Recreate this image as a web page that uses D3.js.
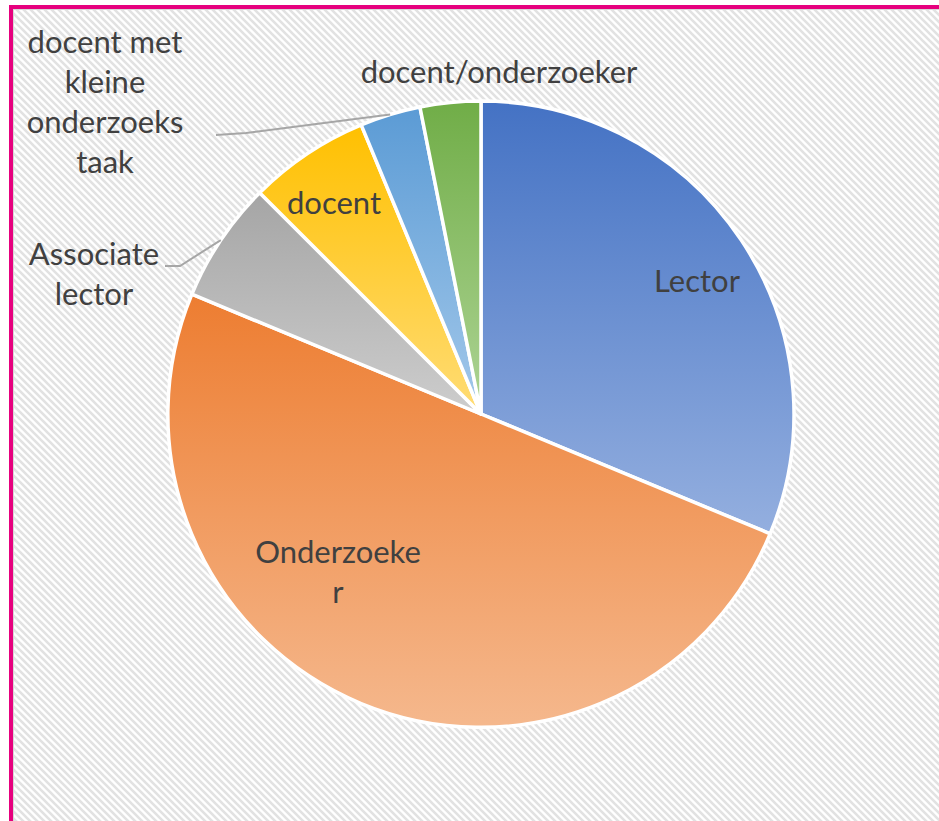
<!DOCTYPE html>
<meta charset="utf-8">
<script src="https://d3js.org/d3.v7.min.js"></script>
<style>
  body { margin: 0; background: #fff; }
  text { font-family: Lato, "Open Sans", sans-serif; }
</style>
<div id="my_dataviz"></div>
<script>
  // data
  var categories = ["Lector", "Onderzoeker", "Associate lector", "docent",
                    "docent met kleine onderzoeks taak", "docent/onderzoeker"];
  var values = [10, 16, 2, 2, 1, 1];
  // how the labels are wrapped in the chart
  var labelLines = [["Lector"], ["Onderzoeke", "r"], ["Associate", "lector"], ["docent"],
                    ["docent met", "kleine", "onderzoeks", "taak"], ["docent/onderzoeker"]];
  var topColors = ["#4472c4", "#ed7d31", "#a5a5a5", "#ffc000", "#5b9bd5", "#70ad47"];
  var bottomColors = ["#94afdf", "#f5b88d", "#cdcdcd", "#ffdc75", "#a3c8ea", "#aed495"];

  // layout (label anchor = center x, first baseline)
  var width = 939, height = 821;
  var cx = 481, cy = 414, radius = 313;
  var labelPos = {
    "Lector": [697, 292],
    "Onderzoeker": [338, 563],
    "Associate lector": [94, 265],
    "docent": [334, 214],
    "docent met kleine onderzoeks taak": [105, 53],
    "docent/onderzoeker": [499, 83]
  };
  // where the leader line leaves the label
  var leaderStart = {
    "Associate lector": [[165, 266], [180, 266]],
    "docent met kleine onderzoeks taak": [[216, 135], [246, 133]]
  };

  var svg = d3.select("#my_dataviz").append("svg")
      .attr("width", width)
      .attr("height", height);

  var defs = svg.append("defs");

  // hatched background
  var pat = defs.append("pattern")
      .attr("id", "hatch")
      .attr("patternUnits", "userSpaceOnUse")
      .attr("width", 7).attr("height", 7);
  pat.append("rect").attr("width", 7).attr("height", 7).attr("fill", "#ffffff");
  pat.append("path")
      .attr("d", "M-2,-2 L9,9 M-9,-2 L2,9 M5,-2 L16,9")
      .attr("stroke", "#e2e2e2")
      .attr("stroke-width", 2.6);

  categories.forEach(function(c, i) {
    var g = defs.append("linearGradient")
        .attr("id", "grad" + i)
        .attr("x1", 0).attr("y1", 0).attr("x2", 0).attr("y2", 1);
    g.append("stop").attr("offset", "0%").attr("stop-color", topColors[i]);
    g.append("stop").attr("offset", "100%").attr("stop-color", bottomColors[i]);
  });

  // frame
  svg.append("rect")
      .attr("x", 13).attr("y", 9)
      .attr("width", width).attr("height", height)
      .attr("fill", "url(#hatch)");
  svg.append("rect")
      .attr("x", 13.5).attr("y", 9.5)
      .attr("width", width).attr("height", height)
      .attr("fill", "none")
      .attr("stroke", "#d6d6d6")
      .attr("stroke-width", 1);
  svg.append("rect")
      .attr("x", 11).attr("y", 7)
      .attr("width", width + 20).attr("height", height + 20)
      .attr("fill", "none")
      .attr("stroke", "#e6007e")
      .attr("stroke-width", 4);

  // pie
  var data = categories.map(function(c, i) { return {name: c, value: values[i], i: i}; });
  var pie = d3.pie().sort(null).value(function(d) { return d.value; });
  var arcs = pie(data);
  var arc = d3.arc().innerRadius(0).outerRadius(radius);
  var edge = d3.arc().innerRadius(radius).outerRadius(radius);

  var g = svg.append("g")
      .attr("transform", "translate(" + cx + "," + cy + ")");

  g.selectAll("path.slice")
    .data(arcs)
    .enter().append("path")
      .attr("class", "slice")
      .attr("d", arc)
      .attr("fill", function(d) { return "url(#grad" + d.data.i + ")"; })
      .attr("stroke", "#ffffff")
      .attr("stroke-width", 3.5)
      .attr("stroke-linejoin", "round");

  // leader lines
  arcs.forEach(function(d) {
    var start = leaderStart[d.data.name];
    if (!start) return;
    var p = edge.centroid(d);
    var pts = start.concat([[p[0] + cx, p[1] + cy]]);
    svg.append("path")
      .attr("d", d3.line()(pts))
      .attr("fill", "none")
      .attr("stroke", "#a6a6a6")
      .attr("stroke-width", 2);
  });

  // labels
  data.forEach(function(d) {
    var pos = labelPos[d.name];
    var t = svg.append("text")
        .attr("text-anchor", "middle")
        .attr("fill", "#404040")
        .style("font-size", "31px");
    labelLines[d.i].forEach(function(line, k) {
      t.append("tspan")
        .attr("x", pos[0])
        .attr("y", pos[1] + k * 40)
        .text(line);
    });
  });
</script>
